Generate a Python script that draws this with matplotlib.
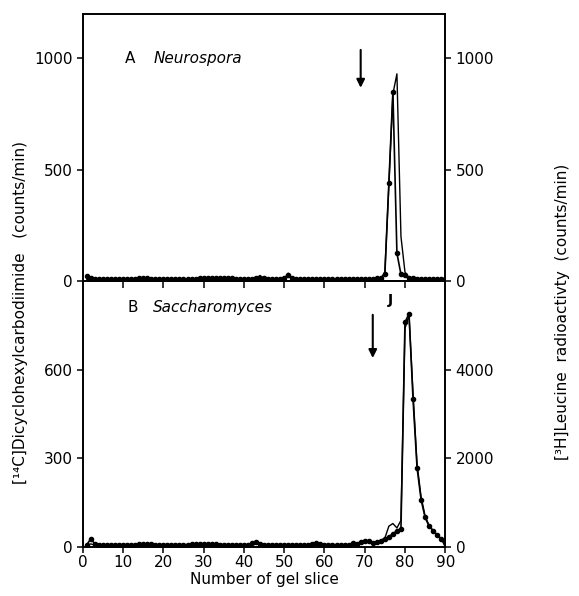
import matplotlib
matplotlib.use("Agg")
import matplotlib.pyplot as plt

plt.rcParams['font.family'] = ['DejaVu Sans']

# panel A: Neurospora, slices 1-90
slices_a = list(range(1, 91))
c14_a = [22, 12, 10, 10, 10, 10, 10, 10, 10, 10,
         10, 10, 10, 12, 12, 12, 10, 10, 10, 10,
         10, 10, 10, 10, 10, 10, 10, 10, 12, 12,
         12, 12, 12, 12, 12, 12, 12, 10, 10, 10,
         10, 10, 12, 14, 12, 10, 10, 10, 10, 12,
         25, 12, 10, 10, 10, 10, 10, 10, 10, 10,
         10, 10, 10, 10, 10, 10, 10, 10, 10, 10,
         10, 10, 12, 15, 30, 440, 850, 125, 30, 25,
         15, 12, 10, 10, 10, 10, 10, 10, 10, 10]
h3_a = [8, 5, 5, 5, 5, 5, 5, 5, 5, 5,
        5, 5, 5, 5, 5, 5, 5, 5, 5, 5,
        5, 5, 5, 5, 5, 5, 5, 5, 5, 5,
        5, 5, 5, 5, 5, 5, 5, 5, 5, 5,
        5, 5, 12, 25, 10, 5, 5, 5, 5, 10,
        35, 8, 5, 5, 5, 5, 5, 5, 5, 5,
        5, 5, 5, 5, 5, 5, 5, 5, 5, 5,
        5, 5, 5, 10, 40, 430, 840, 930, 200, 40,
        15, 10, 8, 5, 5, 5, 5, 5, 5, 5]

# panel B: Saccharomyces, slices 1-90
slices_b = list(range(1, 91))
c14_b = [8, 28, 10, 8, 8, 8, 8, 8, 8, 8,
         8, 8, 8, 10, 10, 10, 10, 8, 8, 8,
         8, 8, 8, 8, 8, 8, 10, 10, 10, 10,
         10, 10, 10, 8, 8, 8, 8, 8, 8, 8,
         8, 12, 18, 10, 8, 8, 8, 8, 8, 8,
         8, 8, 8, 8, 8, 8, 10, 12, 10, 8,
         8, 8, 8, 8, 8, 8, 12, 10, 18, 22,
         20, 15, 18, 22, 28, 35, 45, 55, 62, 760,
         790, 500, 268, 160, 100, 70, 55, 40, 28, 20]
h3_b = [40, 70, 40, 35, 35, 35, 35, 35, 35, 35,
        35, 35, 35, 40, 40, 40, 40, 35, 35, 35,
        35, 35, 35, 35, 35, 35, 40, 40, 40, 40,
        40, 40, 40, 35, 35, 35, 35, 35, 35, 35,
        35, 60, 80, 40, 35, 35, 35, 35, 35, 35,
        35, 35, 35, 35, 35, 40, 70, 100, 60, 35,
        35, 35, 35, 35, 35, 35, 60, 50, 100, 130,
        120, 70, 100, 150, 200, 470, 530, 430, 600, 4930,
        5230, 3470, 1870, 1130, 700, 480, 370, 270, 190, 0]

xticks = [0, 10, 20, 30, 40, 50, 60, 70, 80, 90]

fig = plt.figure(figsize=(5.79, 5.96), dpi=100)
ax1 = fig.add_axes([0.143, 0.5285, 0.626, 0.4485])
ax2 = fig.add_axes([0.143, 0.0822, 0.626, 0.4463])
ax1r = ax1.twinx()
ax2r = ax2.twinx()

# top panel
ax1.plot(slices_a, c14_a, color='black', lw=1.2, marker='o', ms=3)
ax1r.plot(slices_a, h3_a, color='black', lw=1.0)
ax1.set_xlim(0, 90)
ax1.set_ylim(0, 1200)
ax1r.set_ylim(0, 1200)
ax1.set_yticks([0, 500, 1000])
ax1r.set_yticks([0, 500, 1000])
ax1.set_xticks([])
ax1.text(10.5, 1000, 'A', fontsize=11, va='center')
ax1.text(17.5, 1000, 'Neurospora', fontsize=11, style='italic', va='center')
ax1.annotate('', xy=(69, 855), xytext=(69, 1050),
             arrowprops=dict(arrowstyle='-|>', lw=1.5, color='black', mutation_scale=12))

# bottom panel
ax2.plot(slices_b, c14_b, color='black', lw=1.2, marker='o', ms=3)
ax2r.plot(slices_b, h3_b, color='black', lw=1.0)
ax2.set_xlim(0, 90)
ax2.set_ylim(0, 900)
ax2r.set_ylim(0, 6000)
ax2.set_yticks([0, 300, 600])
ax2r.set_yticks([0, 2000, 4000])
ax2.set_xticks(xticks)
ax2.text(11, 810, 'B', fontsize=11, va='center')
ax2.text(17.5, 810, 'Saccharomyces', fontsize=11, style='italic', va='center')
ax2.annotate('', xy=(72, 630), xytext=(72, 795),
             arrowprops=dict(arrowstyle='-|>', lw=1.5, color='black', mutation_scale=12))
ax2.text(76.3, 835, 'J', fontsize=10, fontweight='bold', va='center', ha='center')
ax2.set_xlabel('Number of gel slice', fontsize=11, labelpad=1)

for ax in [ax1, ax2, ax1r, ax2r]:
    for s in ax.spines.values():
        s.set_linewidth(1.2)
    ax.tick_params(axis='y', direction='out', length=4, width=1.1, labelsize=11)
ax2.tick_params(axis='x', direction='out', length=4, width=1.1, labelsize=11, pad=2)
top = ax2.secondary_xaxis('top')
top.set_xticks(xticks[1:-1])
top.tick_params(axis='x', direction='in', length=5, width=1.1, labeltop=False)
top.spines['top'].set_linewidth(1.2)

fig.text(0.035, 0.476, '[¹⁴C]Dicyclohexylcarbodiimide   (counts/min)',
         rotation=90, ha='center', va='center', fontsize=11)
fig.text(0.972, 0.476, '[³H]Leucine  radioactivty  (counts/min)',
         rotation=90, ha='center', va='center', fontsize=11)

fig.savefig('out.png', dpi=100)
